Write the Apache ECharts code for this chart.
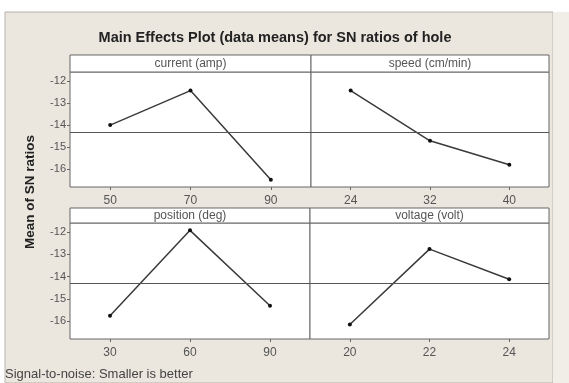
<!DOCTYPE html>
<html><head><meta charset="utf-8">
<script src="https://cdn.jsdelivr.net/npm/echarts@6/dist/echarts.min.js"></script>
<style>html,body{margin:0;padding:0;background:#fff}#c{width:569px;height:383px}</style>
</head><body><div id="c"></div>
<script>
const titleText = 'Main Effects Plot (data means) for SN ratios of hole';
const yTitle = 'Mean of SN ratios';
const footer = 'Signal-to-noise: Smaller is better';
const factorNames = ['current (amp)', 'speed (cm/min)', 'position (deg)', 'voltage (volt)'];
const currentLevels = ['50', '70', '90'];
const speedLevels = ['24', '32', '40'];
const positionLevels = ['30', '60', '90'];
const voltageLevels = ['20', '22', '24'];
const currentSN = [-14.0, -12.44, -16.47];
const speedSN = [-12.44, -14.71, -15.79];
const positionSN = [-15.76, -11.93, -15.31];
const voltageSN = [-16.15, -12.77, -14.12];
const yTicks = [-16, -15, -14, -13, -12];

const all = currentSN.concat(speedSN, positionSN, voltageSN);
const grandMean = all.reduce((a, b) => a + b, 0) / all.length;

const panels = [
  {name: factorNames[0], levels: currentLevels, vals: currentSN, left: 70, top: 72, width: 241, height: 115, showY: true},
  {name: factorNames[1], levels: speedLevels, vals: speedSN, left: 311, top: 72, width: 238, height: 115, showY: false},
  {name: factorNames[2], levels: positionLevels, vals: positionSN, left: 70, top: 223, width: 240, height: 116, showY: true},
  {name: factorNames[3], levels: voltageLevels, vals: voltageSN, left: 310, top: 223, width: 239, height: 116, showY: false}
];
const stripH = [17, 17, 15, 15];
const FONT = 'Liberation Sans';

const grids = [], xAxes = [], yAxes = [], series = [], graphics = [];
graphics.push({type: 'rect', z: -10, shape: {x: 5, y: 12, width: 548, height: 371}, style: {fill: '#ebe6de', stroke: '#b8b4ad', lineWidth: 1}, silent: true});
graphics.push({type: 'rect', z: -10, shape: {x: 553, y: 12, width: 16, height: 371}, style: {fill: '#f1eee8'}, silent: true});
panels.forEach((p, i) => {
  grids.push({left: p.left, top: p.top, width: p.width, height: p.height, show: true, backgroundColor: '#fff', borderColor: '#666', borderWidth: 1});
  xAxes.push({type: 'category', gridIndex: i, data: p.levels, boundaryGap: true,
    axisLine: {show: false}, axisTick: {show: true, alignWithLabel: true, length: 3, lineStyle: {color: '#666'}},
    axisLabel: {color: '#555', fontSize: 12, fontFamily: FONT, margin: 8}, splitLine: {show: false}});
  yAxes.push({type: 'value', gridIndex: i, min: -16.8, max: -11.6,
    axisLine: {show: false},
    axisTick: {show: p.showY, length: 3, customValues: yTicks, lineStyle: {color: '#666'}},
    axisLabel: {show: p.showY, color: '#555', fontSize: 11, fontFamily: FONT, margin: 4, customValues: yTicks},
    splitLine: {show: false}});
  series.push({type: 'line', xAxisIndex: i, yAxisIndex: i, data: p.vals,
    symbol: 'circle', symbolSize: 4, showSymbol: true,
    lineStyle: {color: '#3a3a3a', width: 1.5}, itemStyle: {color: '#111'},
    markLine: {silent: true, symbol: 'none', label: {show: false},
      lineStyle: {color: '#555', type: 'solid', width: 1}, data: [{yAxis: grandMean}]},
    animation: false});
  const sh = stripH[i];
  graphics.push({type: 'rect', shape: {x: p.left, y: p.top - sh, width: p.width, height: sh},
    style: {fill: '#fff', stroke: '#666', lineWidth: 1}, silent: true});
  graphics.push({type: 'text', x: p.left + p.width / 2, y: p.top - sh / 2,
    style: {text: p.name, fill: '#555', font: '12px ' + FONT, align: 'center', verticalAlign: 'middle'}, silent: true});
});
graphics.push({type: 'text', x: 30, y: 192, rotation: Math.PI / 2,
  style: {text: yTitle, fill: '#222', font: 'bold 13.5px ' + FONT, align: 'center', verticalAlign: 'middle'}, silent: true});
graphics.push({type: 'text', x: 5, y: 374,
  style: {text: footer, fill: '#444', font: '13px ' + FONT, align: 'left', verticalAlign: 'middle'}, silent: true});

const chart = echarts.init(document.getElementById('c'));
chart.setOption({
  animation: false,
  backgroundColor: '#fff',
  title: {text: titleText, left: 270, top: 25, textAlign: 'center',
    textStyle: {fontFamily: FONT, fontSize: 14.5, fontWeight: 'bold', color: '#222'}},
  grid: grids, xAxis: xAxes, yAxis: yAxes, series: series, graphic: graphics
});
</script></body></html>
